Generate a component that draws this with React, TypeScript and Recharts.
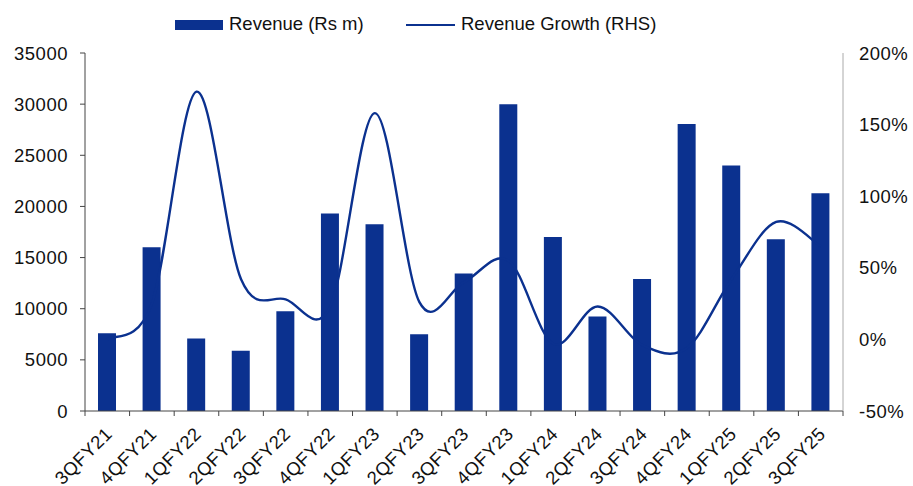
import { Bar, ComposedChart, Line, XAxis, YAxis } from "recharts";

const categories = [
  "3QFY21", "4QFY21", "1QFY22", "2QFY22", "3QFY22", "4QFY22", "1QFY23", "2QFY23", "3QFY23",
  "4QFY23", "1QFY24", "2QFY24", "3QFY24", "4QFY24", "1QFY25", "2QFY25", "3QFY25",
];
const revenue = [7600, 16000, 7100, 5900, 9750, 19300, 18250, 7500, 13450, 30000, 17000, 9250, 12900, 28050, 24000, 16800, 21300];
const growth = [0, 25, 173, 42, 28, 23, 158, 26, 40, 55, -3, 23, -4, -6, 42, 82, 65];

const leftTicks = [0, 5000, 10000, 15000, 20000, 25000, 30000, 35000];
const rightTicks = [-50, 0, 50, 100, 150, 200];

const BLUE = "#0b318f";
const TEXT = "#111";
const FONT = "'Liberation Sans', Arial, sans-serif";
const HALF_BAND = 758 / 17 / 2;

const data = categories.map((q, i) => ({ q, revenue: revenue[i], growth: growth[i] }));

/* Excel-style smoothed line: Catmull-Rom through every point */
function excelCurve(context: any) {
  let pts: number[][] = [];
  return {
    areaStart() {},
    areaEnd() {},
    lineStart() {
      pts = [];
    },
    point(x: number, y: number) {
      pts.push([+x, +y]);
    },
    lineEnd() {
      if (!pts.length) return;
      context.moveTo(pts[0][0], pts[0][1]);
      for (let i = 0; i < pts.length - 1; i++) {
        const p0 = pts[i - 1] || pts[i];
        const p1 = pts[i];
        const p2 = pts[i + 1];
        const p3 = pts[i + 2] || pts[i + 1];
        context.bezierCurveTo(
          p1[0] + (p2[0] - p0[0]) / 6,
          p1[1] + (p2[1] - p0[1]) / 6,
          p2[0] - (p3[0] - p1[0]) / 6,
          p2[1] - (p3[1] - p1[1]) / 6,
          p2[0],
          p2[1]
        );
      }
    },
  };
}

function QuarterTick({ x, y, payload, index }: any) {
  const last = index === categories.length - 1;
  const tx = x + 6;
  const ty = y + 16;
  return (
    <g>
      <line x1={x - HALF_BAND} x2={x - HALF_BAND} y1={y - 8} y2={y - 3} stroke="#444" />
      {last && <line x1={x + HALF_BAND} x2={x + HALF_BAND} y1={y - 8} y2={y - 3} stroke="#444" />}
      <text
        x={tx}
        y={ty}
        textAnchor="end"
        transform={`rotate(-45, ${tx}, ${ty})`}
        fontSize={18.5}
        letterSpacing={0.5}
        fill={TEXT}
        fontFamily={FONT}
      >
        {payload.value}
      </text>
    </g>
  );
}

function ChartLegend() {
  return (
    <div
      style={{
        position: "absolute",
        left: 0,
        top: 0,
        width: 913,
        height: 40,
        fontFamily: FONT,
        fontSize: 18.5,
        color: TEXT,
      }}
    >
      <span style={{ position: "absolute", left: 175, top: 20, width: 48, height: 10, background: BLUE }} />
      <span style={{ position: "absolute", left: 229, top: 13 }}>Revenue (Rs m)</span>
      <span style={{ position: "absolute", left: 406, top: 24, width: 49, height: 2, background: BLUE }} />
      <span style={{ position: "absolute", left: 461, top: 13 }}>Revenue Growth (RHS)</span>
    </div>
  );
}

const tickStyle = { fill: TEXT, fontSize: 18.5, fontFamily: FONT, letterSpacing: 0.5 };

export default function App() {
  return (
    <div style={{ position: "absolute", left: 0, top: 0, width: 913, height: 486, background: "#fff" }}>
      <ChartLegend />
      <ComposedChart width={913} height={486} data={data} margin={{ top: 53, right: 0, bottom: 0, left: 0 }}>
        <XAxis
          dataKey="q"
          xAxisId="x"
          height={75}
          interval={0}
          tickLine={false}
          stroke="#444"
          tick={<QuarterTick />}
        />
        <YAxis
          yAxisId="left"
          orientation="left"
          width={85}
          domain={[0, 35000]}
          ticks={leftTicks}
          interval={0}
          tickSize={5}
          tickMargin={12}
          stroke="#444"
          tick={tickStyle}
        />
        <YAxis
          yAxisId="right"
          orientation="right"
          width={70}
          domain={[-50, 200]}
          ticks={rightTicks}
          interval={0}
          tickLine={false}
          tickSize={5}
          tickMargin={11}
          stroke="#aaa"
          tickFormatter={(v: number) => `${v}%`}
          tick={{ ...tickStyle, textAnchor: "start" }}
        />
        <Line
          xAxisId="x"
          yAxisId="right"
          dataKey="growth"
          type={excelCurve as any}
          stroke={BLUE}
          strokeWidth={2.4}
          dot={false}
          activeDot={false}
          isAnimationActive={false}
        />
        <Bar xAxisId="x" yAxisId="left" dataKey="revenue" fill={BLUE} barSize={18} isAnimationActive={false} />
      </ComposedChart>
    </div>
  );
}
